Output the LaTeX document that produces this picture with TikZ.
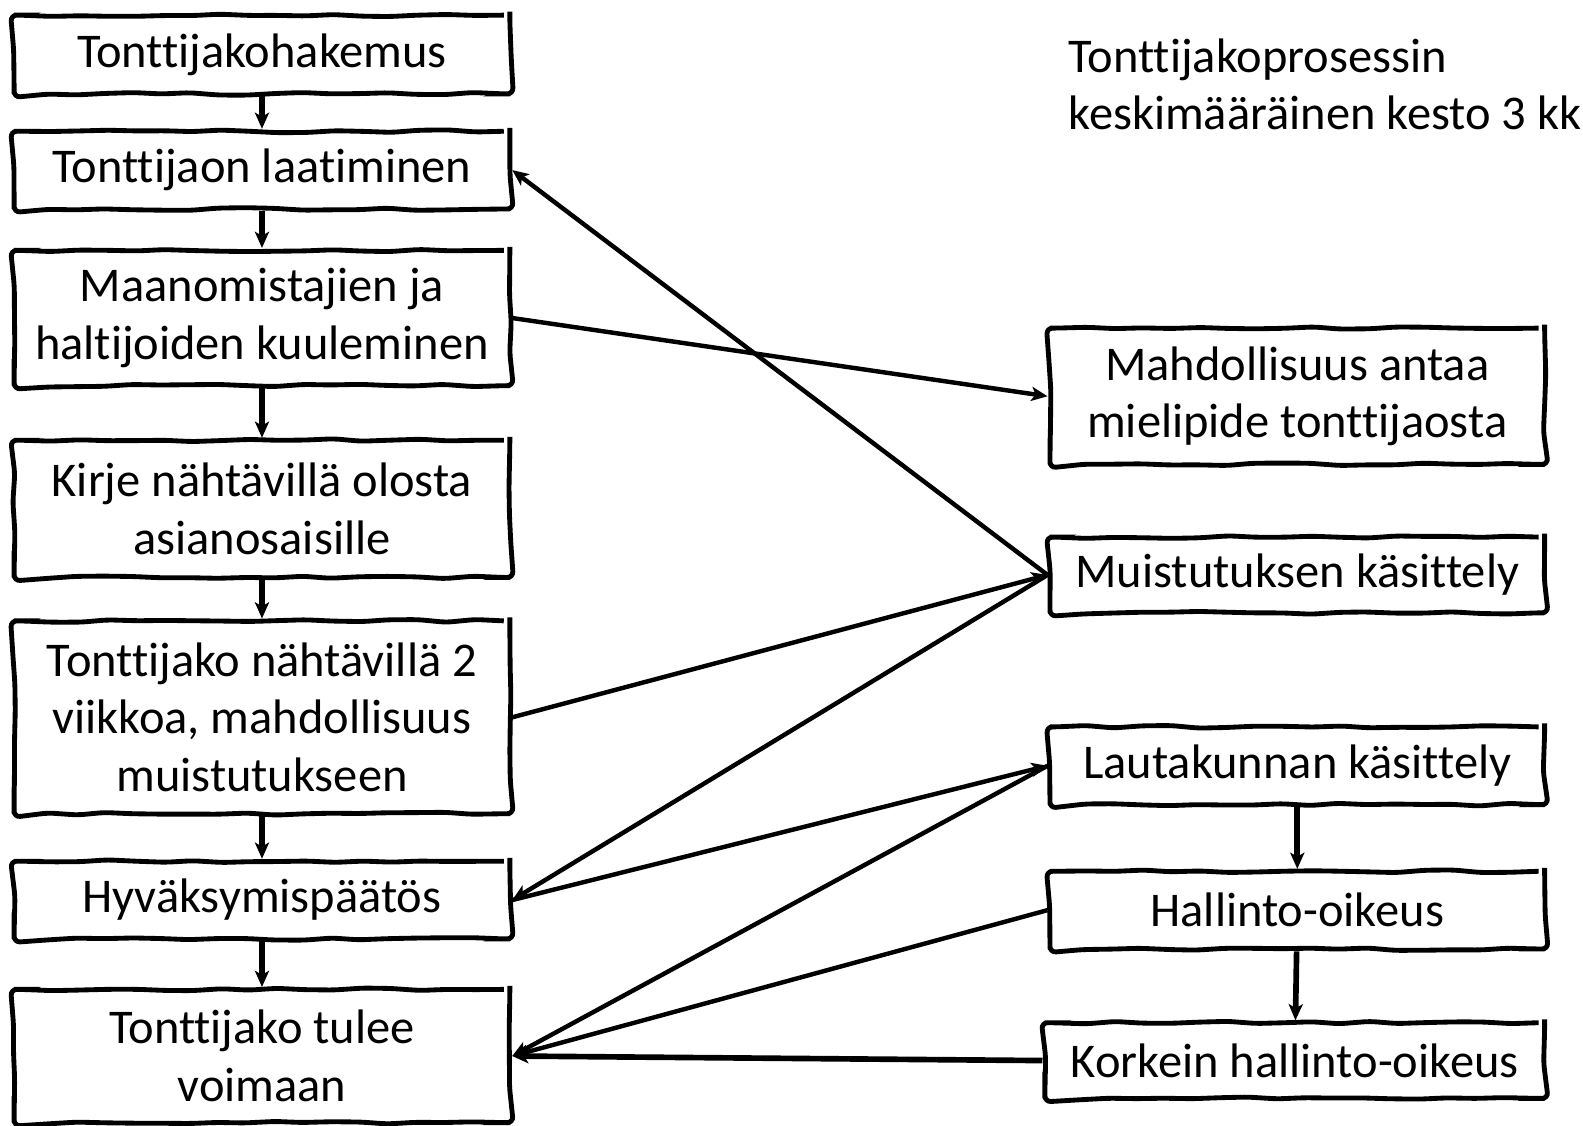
\documentclass[tikz,border=0pt]{standalone}
\usepackage{fontspec}
\setmainfont{Carlito}[RawFeature={-liga;-clig;-dlig;-calt}]
\usetikzlibrary{arrows.meta,decorations.pathmorphing}
\begin{document}
\begin{tikzpicture}[x=0.5pt,y=-0.5pt,
  box/.style={draw=black,line width=2.4pt,inner sep=0pt,align=center,
    font=\fontsize{24pt}{28.5pt}\selectfont,
    decoration={random steps,segment length=14pt,amplitude=0.7pt},decorate,rounded corners=3pt},
  lbox/.style={box,minimum width=245.5pt},
  rbox/.style={box,minimum width=245pt},
  conn/.style={line width=2.2pt,-{Stealth[length=8pt,width=7pt,inset=2pt]}},
  vconn/.style={conn,line width=2.8pt}
]
\pgfmathsetseed{7}
\useasboundingbox (0,0) rectangle (1568,1115);

\node[lbox,minimum height=39pt] (b1) at (259.5,54) {Tonttijakohakemus};
\node[lbox,minimum height=38.5pt] (b2) at (259.5,168.5) {Tonttijaon laatiminen};
\node[lbox,minimum height=67pt] (b3) at (259.5,315) {Maanomistajien ja\\haltijoiden kuuleminen};
\node[lbox,minimum height=68pt] (b4) at (259.5,504) {Kirje nähtävillä olosta\\asianosaisille};
\node[lbox,minimum height=95.5pt] (b5) at (259.5,710.5) {Tonttijako nähtävillä 2\\viikkoa, mahdollisuus\\muistutukseen};
\node[lbox,minimum height=38.5pt] (b6) at (259.5,891.5) {Hyväksymispäätös};
\node[lbox,minimum height=66pt] (b7) at (259.5,1046) {Tonttijako tulee\\voimaan};

\node[rbox,minimum height=67.5pt] (r1) at (1285,392.5) {Mahdollisuus antaa\\mielipide tonttijaosta};
\node[rbox,minimum height=37.5pt] (r2) at (1285,569.5) {Muistutuksen käsittely};
\node[rbox,minimum height=38.5pt] (r3) at (1285,758.5) {Lautakunnan käsittely};
\node[rbox,minimum height=38.5pt] (r4) at (1285,901.5) {Hallinto-oikeus};
\node[box,minimum width=247.5pt,minimum height=37.5pt] (r5) at (1282.5,1050.5) {Korkein hallinto-oikeus};

\node[anchor=north west,align=left,inner sep=0pt,font=\fontsize{24pt}{28.5pt}\selectfont] (title) at (1058,38)
  {Tonttijakoprosessin\\keskimääräinen kesto 3 kk};

\draw[vconn] (b1) -- (b2);
\draw[vconn] (b2) -- (b3);
\draw[vconn] (b3) -- (b4);
\draw[vconn] (b4) -- (b5);
\draw[vconn] (b5) -- (b6);
\draw[vconn] (b6) -- (b7);
\draw[vconn] (r3) -- (r4);
\draw[vconn] (r4) -- (r5);

\draw[conn] (b3.east) -- (r1.west);
\draw[conn] (r2.west) -- (b2.east);
\draw[conn] (b5.east) -- (r2.west);
\draw[conn] (r2.west) -- (b6.east);
\draw[conn] (b6.east) -- (r3.west);
\draw[conn] (r3.west) -- (b7.east);
\draw[conn] (r4.west) -- (b7.east);
\draw[vconn] (r5.west) -- (b7.east);
\end{tikzpicture}
\end{document}
